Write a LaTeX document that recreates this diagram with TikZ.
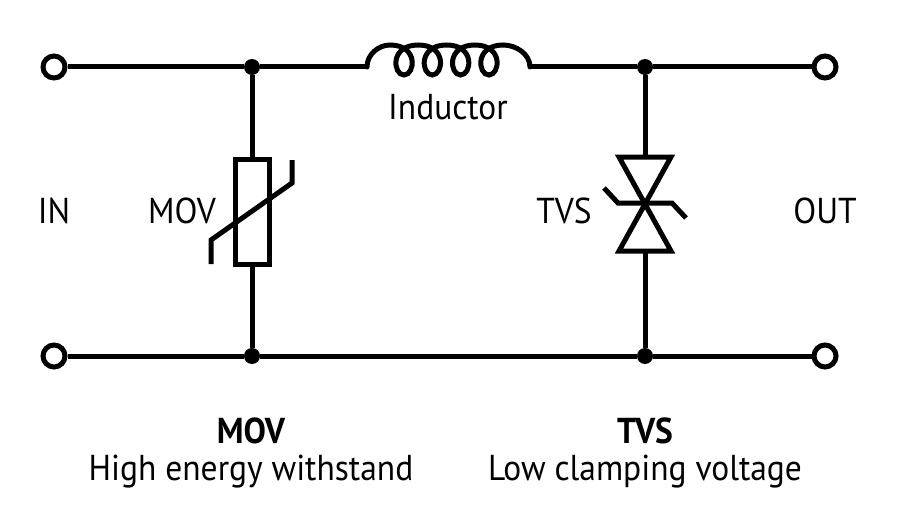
\documentclass[tikz,border=0pt]{standalone}
\usepackage{fontspec}
\setmainfont[FakeStretch=0.93]{PT Sans}
\begin{document}
\begin{tikzpicture}[
        x=1pt, y=-1pt,
        wire/.style={line width=5pt, line join=miter},
        terminal/.style={circle, draw, line width=5pt, fill=white, inner sep=0pt, minimum size=22pt},
        junction/.style={circle, fill=black, inner sep=0pt, minimum size=16pt},
        movbox/.style={rectangle, draw, line width=5pt, fill=white, inner sep=0pt, minimum width=34pt, minimum height=105pt},
        label/.style={font=\fontsize{36}{38}\selectfont, inner sep=0pt, anchor=center}
    ]
        \useasboundingbox (0,0) rectangle (900,527);

        \node[terminal] (intop) at (54,67) {};
        \node[terminal] (inbot) at (54,356) {};
        \node[terminal] (outtop) at (825,67) {};
        \node[terminal] (outbot) at (825,356) {};
        \node[junction] (movtop) at (252,67) {};
        \node[junction] (movbot) at (252,356) {};
        \node[junction] (tvstop) at (645,67) {};
        \node[junction] (tvsbot) at (645,356) {};
        \node[movbox] (mov) at (252,212) {};
        \coordinate (indleft) at (367,67);
        \coordinate (indright) at (530,67);
        \coordinate (tvsin) at (645,157);
        \coordinate (tvsmid) at (645,204);
        \coordinate (tvsout) at (645,251);

        % wires
        \draw[wire] (intop) -- (movtop) -- (indleft);
        \draw[wire] (indright) -- (tvstop) -- (outtop);
        \draw[wire] (inbot) -- (movbot) -- (tvsbot) -- (outbot);
        \draw[wire] (movtop) -- (mov);
        \draw[wire] (mov) -- (movbot);
        \draw[wire] (tvstop) -- (tvsin);
        \draw[wire] (tvsout) -- (tvsbot);

        % inductor
        \draw[wire, line cap=round] (indleft) .. controls (367,54) and (379,45) .. (390,45)
            foreach \i in {0,...,3} {
                .. controls ({390+28.3*\i+29},45) and ({390+28.3*\i+25},75) .. ({390+28.3*\i+14},75)
                .. controls ({390+28.3*\i+3},75) and ({390+28.3*\i-0.7},45) .. ({390+28.3*(\i+1)},45)
            }
            .. controls (516,45) and (530,54) .. (indright);

        % mov slash
        \draw[wire] (211,264) -- (211,240) -- (292,183) -- (292,160);

        % tvs
        \draw[wire, line join=miter] (619,157) -- (671,157) -- (tvsmid) -- cycle;
        \draw[wire, line join=miter] (619,251) -- (671,251) -- (tvsmid) -- cycle;
        \draw[wire] (604,188) -- (618,203) -- (672,203) -- (686,218);

        \node[label] (lblin) at (54,211) {IN};
        \node[label] (lblmov) at (182,211) {MOV};
        \node[label] (lbltvs) at (564,211) {TVS};
        \node[label] (lblout) at (825,211) {OUT};
        \node[label] (lblind) at (448,107) {Inductor};
        \node[label, font=\fontsize{36}{38}\selectfont\bfseries] (capmov) at (251,431) {MOV};
        \node[label] (capmovb) at (251,472) {High energy withstand};
        \node[label, font=\fontsize{36}{38}\selectfont\bfseries] (captvs) at (645,431) {TVS};
        \node[label] (captvsb) at (645,472) {Low clamping voltage};
    \end{tikzpicture}
\end{document}
